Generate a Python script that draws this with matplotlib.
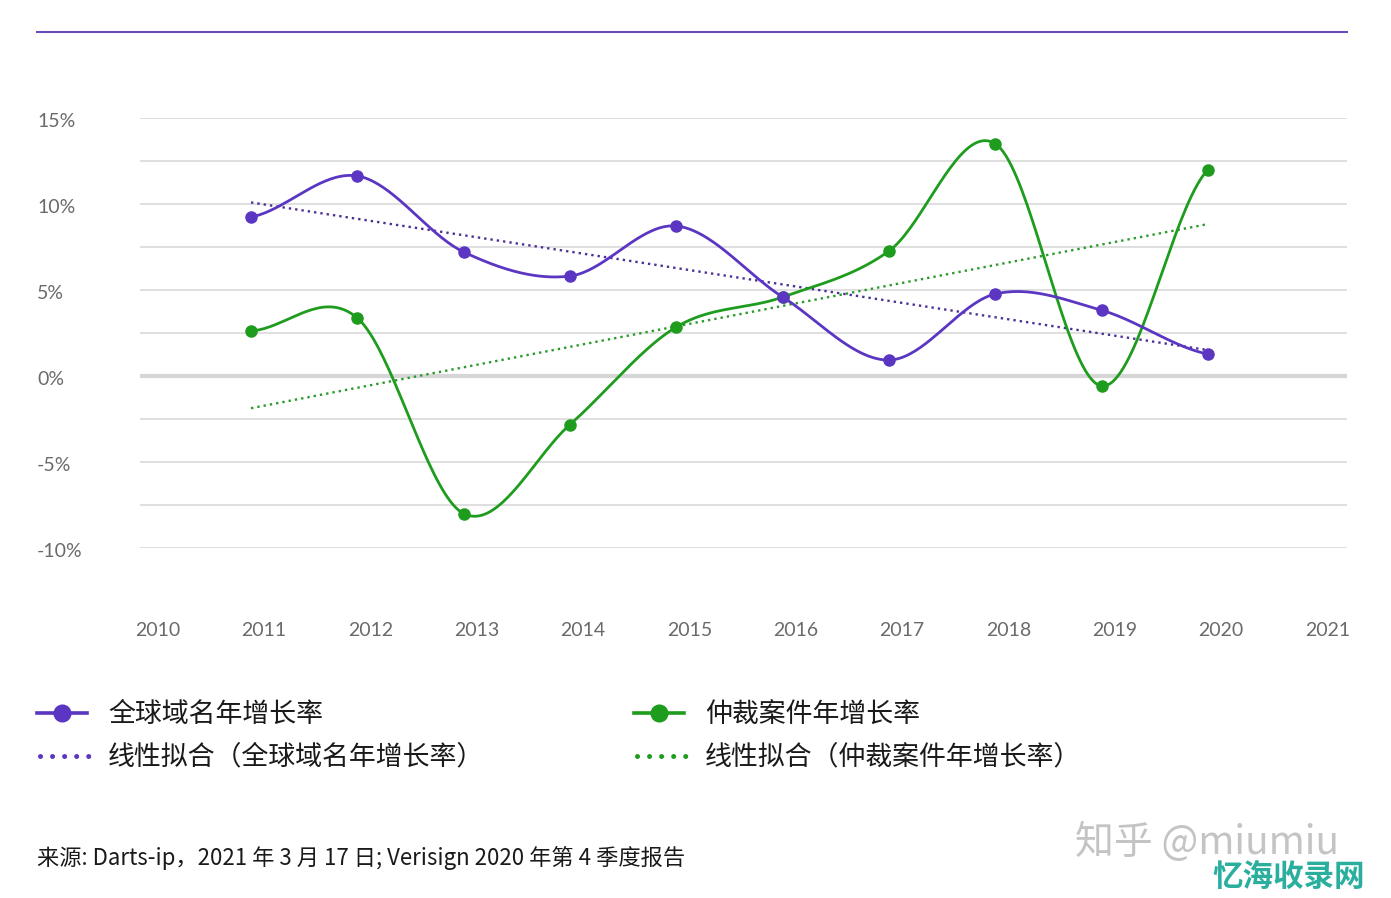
import numpy as np
import matplotlib
matplotlib.use('Agg')
import matplotlib.pyplot as plt
from matplotlib.lines import Line2D
import matplotlib.transforms as mtransforms

# ---------------- data ----------------
years = [2011, 2012, 2013, 2014, 2015, 2016, 2017, 2018, 2019, 2020]
domain_growth = [9.24, 11.63, 7.21, 5.81, 8.72, 4.59, 0.93, 4.77, 3.82, 1.27]
dispute_growth = [2.62, 3.37, -8.00, -2.82, 2.85, 4.59, 7.27, 13.50, -0.58, 12.00]
x_ticks = list(range(2010, 2022))
x_labels = [str(y) for y in x_ticks]
y_ticks = [-10, -5, 0, 5, 10, 15]
y_labels = ['-10%', '-5%', '0%', '5%', '10%', '15%']
y_grid = [-10, -7.5, -5, -2.5, 2.5, 5, 7.5, 10, 12.5, 15]
series_names = ['全球域名年增长率', '仲裁案件年增长率']
fit_names = ['线性拟合（全球域名年增长率）', '线性拟合（仲裁案件年增长率）']
source_text = '来源: Darts-ip，2021 年 3 月 17 日; Verisign 2020 年第 4 季度报告'
watermark1 = '知乎 @miumiu'
watermark2 = '忆海收录网'

PURPLE = '#5b36c2'
PURPLE_FIT = '#4b3196'
GREEN = '#1e9c1e'
GREEN_FIT = '#2a9a2a'
GRID = '#dcdcdc'
TICK = '#6a6a6a'

plt.rcParams['font.family'] = ['Noto Sans CJK SC', 'DejaVu Sans']


def smooth(x, y, n=40):
    """Catmull-Rom style smoothing (Excel-like smoothed line)."""
    x = np.asarray(x, float)
    y = np.asarray(y, float)
    m = np.empty_like(y)
    m[1:-1] = (y[2:] - y[:-2]) / (x[2:] - x[:-2])
    m[0] = (y[1] - y[0]) / (x[1] - x[0]) / 2
    m[-1] = (y[-1] - y[-2]) / (x[-1] - x[-2]) / 2
    xs, ys = [], []
    for i in range(len(x) - 1):
        h = x[i + 1] - x[i]
        t = np.linspace(0, 1, n, endpoint=(i == len(x) - 2))
        h00 = 2 * t**3 - 3 * t**2 + 1
        h10 = t**3 - 2 * t**2 + t
        h01 = -2 * t**3 + 3 * t**2
        h11 = t**3 - t**2
        xs.append(x[i] + t * h)
        ys.append(h00 * y[i] + h10 * h * m[i] + h01 * y[i + 1] + h11 * h * m[i + 1])
    return np.concatenate(xs), np.concatenate(ys)


W, H = 1391, 898
fig = plt.figure(figsize=(W / 100, H / 100), dpi=100)
fig.patch.set_facecolor('white')

# top rule
fig.add_artist(Line2D([37 / W, 1347 / W], [1 - 32 / H, 1 - 32 / H], color='#6a4cb8', lw=1.5))

ax = fig.add_axes([140 / W, 1 - 548 / H, 1207 / W, 430 / H])
ax.set_xlim(2009.956, 2021.307)
ax.set_ylim(-10, 15)
for s in ax.spines.values():
    s.set_visible(False)

for g in y_grid:
    ax.axhline(g, color=GRID, lw=1.3, zorder=0)
ax.axhline(0, color='#d6d6d6', lw=3.0, zorder=0)

# linear fits
xa = np.array(years, float)
for vals, col in [(domain_growth, PURPLE_FIT), (dispute_growth, GREEN_FIT)]:
    k, b = np.polyfit(xa, vals, 1)
    ax.plot([xa[0], xa[-1]], [k * xa[0] + b, k * xa[-1] + b], color=col, lw=1.7,
            linestyle=(0, (1, 1.7)), zorder=2)

# smoothed series
for vals, col in [(dispute_growth, GREEN), (domain_growth, PURPLE)]:
    sx, sy = smooth(years, vals)
    ax.plot(sx, sy, color=col, lw=2.0, zorder=3)
    ax.plot(years, vals, 'o', color=col, ms=8, zorder=4)

ax.set_yticks(y_ticks, y_labels)
ax.set_xticks(x_ticks, x_labels)
ax.tick_params(axis='both', length=0, labelcolor=TICK, labelsize=14)
ax.tick_params(axis='y', pad=74)
ax.tick_params(axis='x', pad=53)
for lab in ax.get_yticklabels():
    lab.set_ha('left')
    lab.set_fontfamily(['Lato', 'DejaVu Sans'])
    lab.set_fontweight('normal')
    lab.set_transform(lab.get_transform() + mtransforms.ScaledTranslation(0, -2 / 100, fig.dpi_scale_trans))
off = mtransforms.ScaledTranslation(13 / 100, 0, fig.dpi_scale_trans)
for lab in ax.get_xticklabels():
    lab.set_transform(lab.get_transform() + off)
    lab.set_fontfamily(['Lato', 'DejaVu Sans'])
    lab.set_fontweight('normal')

# legend (manual)
def fy(py):
    return 1 - py / H

legend_items = [
    (37, 713, PURPLE, series_names[0], 'solid'),
    (634, 713, GREEN, series_names[1], 'solid'),
    (37, 756, PURPLE, fit_names[0], 'dot'),
    (634, 756, GREEN, fit_names[1], 'dot'),
]
for px, py, col, name, kind in legend_items:
    if kind == 'solid':
        fig.add_artist(Line2D([px / W, (px + 50) / W], [fy(py), fy(py)], color=col, lw=2.6))
        fig.add_artist(Line2D([(px + 25) / W], [fy(py)], marker='o', color=col, ms=12))
    else:
        fig.add_artist(Line2D([(px + 3) / W, (px + 53) / W], [fy(py), fy(py)], color=col, lw=3.6,
                              linestyle=(0, (0.01, 2.4)), dash_capstyle='round'))
    fig.text((px + 71) / W, fy(py + 1), name, fontsize=19.4, color='#1a1a1a', va='center', ha='left')

fig.text(37 / W, fy(858), source_text, fontsize=16, color='#1a1a1a', va='center', ha='left')

fig.text(1075 / W, fy(843), watermark1, fontsize=28, color='#c4c4c4', va='center', ha='left',
         family=['Noto Sans CJK SC', 'DejaVu Sans'])
fig.text(1365 / W, fy(877), watermark2, fontsize=22, color='#2aaf9f', va='center', ha='right',
         fontweight='bold', style='italic')

fig.savefig('out.png', dpi=100, facecolor='white')
